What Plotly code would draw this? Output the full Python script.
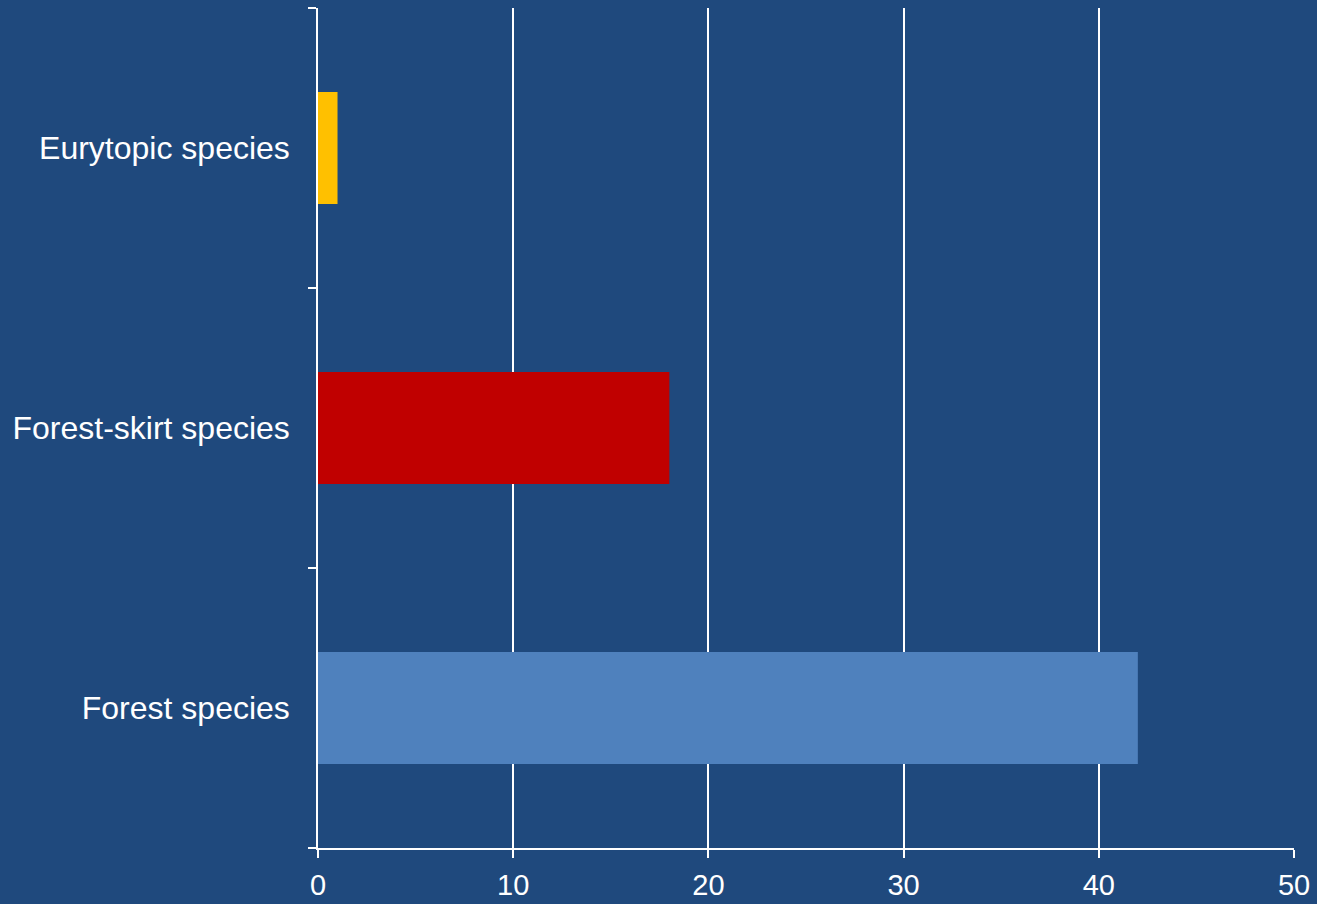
import plotly.graph_objects as go

categories = ["Forest species", "Forest-skirt species", "Eurytopic species"]
values = [42, 18, 1]
colors = ["#4F81BD", "#C00000", "#FFC000"]
x_ticks = [0, 10, 20, 30, 40, 50]

bg = "#1F497D"

fig = go.Figure(go.Bar(
    x=values, y=categories, orientation="h",
    marker=dict(color=colors, line=dict(width=0)),
    width=0.4,
))

fig.update_layout(
    width=1317, height=904,
    paper_bgcolor=bg, plot_bgcolor=bg,
    margin=dict(l=318, r=23, t=8, b=56),
    showlegend=False,
    font=dict(family="Liberation Sans, Arial, sans-serif", color="white"),
)

fig.update_xaxes(
    range=[0, 50], tickvals=x_ticks, ticktext=[str(v) for v in x_ticks],
    showgrid=True, gridcolor="white", gridwidth=1.5,
    showline=True, linecolor="white", linewidth=1.5,
    ticks="outside", ticklen=8, tickcolor="white", tickwidth=1.5,
    tickfont=dict(size=29, color="white"),
    ticklabelstandoff=2,
    zeroline=False, fixedrange=True, automargin=False,
)

fig.update_yaxes(
    categoryorder="array", categoryarray=categories,
    range=[-0.5, 2.5],
    showgrid=False,
    showline=True, linecolor="white", linewidth=1.5,
    ticks="outside", ticklen=8, tickcolor="white", tickwidth=1.5,
    tickson="boundaries",
    tickfont=dict(size=32, color="white"),
    ticklabelstandoff=20,
    zeroline=False, fixedrange=True, automargin=False,
)

fig.write_html("out.html")
